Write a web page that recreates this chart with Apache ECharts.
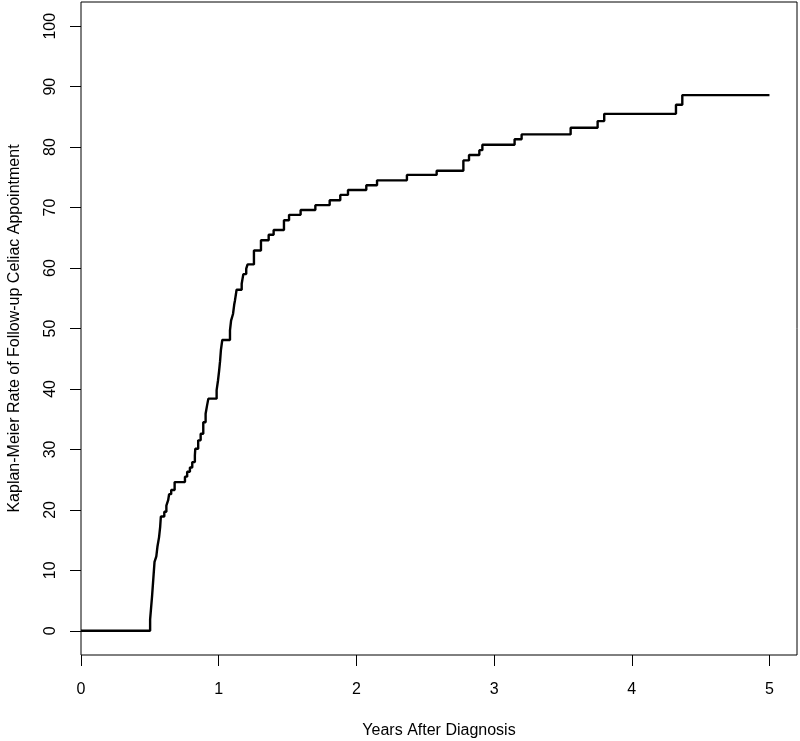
<!DOCTYPE html>
<html>
<head>
<meta charset="utf-8">
<script src="https://cdn.jsdelivr.net/npm/echarts@6/dist/echarts.min.js"></script>
<style>html,body{margin:0;padding:0;background:#fff}#c{width:800px;height:741px}</style>
</head>
<body>
<div id="c"></div>
<script>
// Event times (years) and Kaplan-Meier cumulative rate (%) after each event
const times = [0, 0.502, 0.509, 0.516, 0.522, 0.528, 0.534, 0.547, 0.555, 0.567, 0.575, 0.58, 0.605, 0.62, 0.633, 0.64, 0.655, 0.68, 0.755, 0.771, 0.791, 0.808, 0.827, 0.83, 0.851, 0.869, 0.888, 0.905, 0.915, 0.925, 0.985, 0.995, 1.003, 1.01, 1.016, 1.026, 1.082, 1.09, 1.104, 1.113, 1.118, 1.13, 1.167, 1.179, 1.2, 1.21, 1.256, 1.307, 1.363, 1.399, 1.474, 1.511, 1.595, 1.702, 1.806, 1.883, 1.939, 2.072, 2.15, 2.367, 2.583, 2.777, 2.818, 2.893, 2.915, 3.149, 3.2, 3.556, 3.752, 3.8, 4.321, 4.367, 5.0];
const rates = [0, 1.9, 3.8, 5.7, 7.6, 9.5, 11.4, 12.3, 13.9, 15.5, 17.2, 18.9, 19.7, 20.7, 21.6, 22.6, 23.3, 24.6, 25.5, 26.3, 27.0, 27.9, 29.0, 30.1, 31.5, 32.6, 34.5, 35.9, 37.2, 38.4, 39.8, 41.4, 43.0, 44.6, 46.4, 48.1, 49.7, 51.3, 52.4, 54.0, 54.6, 56.4, 57.4, 59.0, 59.9, 60.6, 62.9, 64.6, 65.5, 66.3, 67.9, 68.8, 69.6, 70.4, 71.2, 72.1, 72.9, 73.7, 74.5, 75.4, 76.1, 77.8, 78.7, 79.5, 80.4, 81.3, 82.1, 83.2, 84.3, 85.5, 87.0, 88.6, 88.6];
const xTicks = [0, 1, 2, 3, 4, 5];
const yTicks = [0, 10, 20, 30, 40, 50, 60, 70, 80, 90, 100];
const xName = 'Years After Diagnosis';
const yName = 'Kaplan-Meier Rate of Follow-up Celiac Appointment';

const font = '"Liberation Sans", Arial, Helvetica, sans-serif';
const chart = echarts.init(document.getElementById('c'), null, {renderer: 'canvas'});
chart.setOption({
  animation: false,
  backgroundColor: '#fff',
  grid: {left: 81, top: 2, width: 716, height: 653, outerBoundsMode: 'none', containLabel: false, show: true, borderColor: '#000', borderWidth: 1, backgroundColor: 'transparent'},
  xAxis: {
    type: 'value', min: 0, max: 5.2,
    name: xName, nameLocation: 'middle', nameGap: 68,
    nameTextStyle: {fontFamily: font, fontSize: 16, color: '#000'},
    axisLine: {show: false, onZero: false},
    axisTick: {show: true, length: 11, lineStyle: {color: '#000', width: 1}, customValues: xTicks},
    axisLabel: {fontFamily: font, fontSize: 16, color: '#000', margin: 27, customValues: xTicks},
    splitLine: {show: false}
  },
  yAxis: {
    type: 'value', min: -4, max: 104,
    name: yName, nameLocation: 'middle', nameGap: 58,
    nameTextStyle: {fontFamily: font, fontSize: 16, color: '#000'},
    axisLine: {show: false, onZero: false},
    axisTick: {show: true, length: 11, lineStyle: {color: '#000', width: 1}, customValues: yTicks},
    axisLabel: {fontFamily: font, fontSize: 16, color: '#000', margin: 22, rotate: 90, customValues: yTicks},
    splitLine: {show: false}
  },
  series: [{
    type: 'line',
    step: 'end',
    showSymbol: false,
    data: times.map((t, i) => [t, rates[i]]),
    lineStyle: {color: '#000', width: 2.4}
  }]
});
</script>
</body>
</html>
